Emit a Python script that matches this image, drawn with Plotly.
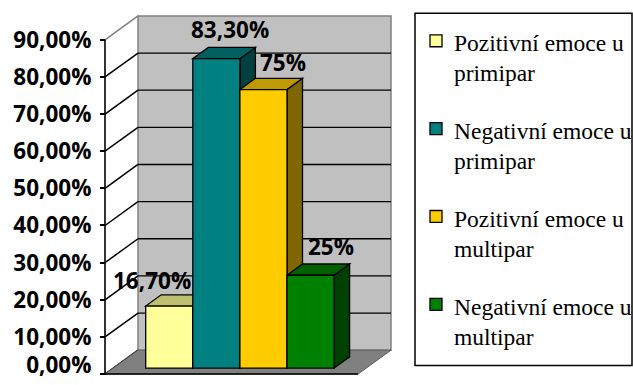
import plotly.graph_objects as go

# ---------------- data ----------------
SERIES = ["Pozitivní emoce u<br>primipar", "Negativní emoce u<br>primipar",
          "Pozitivní emoce u<br>multipar", "Negativní emoce u<br>multipar"]
VALUES = [0.167, 0.833, 0.75, 0.25]
LABELS = ["16,70%", "83,30%", "75%", "25%"]
TICKS = [0.0, 0.1, 0.2, 0.3, 0.4, 0.5, 0.6, 0.7, 0.8, 0.9]

# ---------------- style ----------------
FRONT = ["#FFFF99", "#008080", "#FFCC00", "#008000"]
LABEL_DX = [-17, 14, 20, 20]   # px shift of data labels
LABEL_DY = [-3, 0, -2, 0]
BOLD = dict(family="Open Sans", size=22.5, color="black", weight="bold")
SERIF = dict(family="Liberation Serif", size=23.5, color="black")


def shade(hexc, f):
    h = hexc.lstrip("#")
    r, g, b = (int(h[i:i + 2], 16) for i in (0, 2, 4))
    return "#%02X%02X%02X" % (int(r * f), int(g * f), int(b * f))


W, H = 633, 385
KY = 336 / 0.9          # px per y unit
U = 47.1                # px per category unit
X_BAR0 = 145.7          # left px edge of first bar front
Y_ZERO = 376            # px of 0 on front plane


def xval(px):
    return -0.5 + (px - X_BAR0) / U


def yval(py):
    return (Y_ZERO - py) / KY


def xp(px):
    return px / W


def yp(py):
    return 1 - py / H


XA = xval(105)          # front-left corner (axis)
XF = xval(358)          # front-right corner
DDX, DDY = 33 / U, 24 / KY      # full depth of the box
BDX, BDY = 15.5 / U, 11.3 / KY  # depth of a bar
BAR_OFF = 6 / KY                # bar plane offset above front plane
YMAX = TICKS[-1]
Y_RANGE = [yval(380), yval(10)]

fig = go.Figure()

for i, (name, v, c) in enumerate(zip(SERIES, VALUES, FRONT)):
    fig.add_trace(go.Bar(
        x=[i], y=[v], width=[1], name=name.replace("<br>", " "), yaxis="y2",
        marker=dict(color=c, line=dict(color="black", width=1.3)),
        showlegend=False, hoverinfo="skip"))
# empty trace so that the extra axis carrying the 0 % label is drawn
fig.add_trace(go.Scatter(x=[], y=[], yaxis="y3", showlegend=False, hoverinfo="skip"))

shapes = []
# back wall
shapes.append(dict(type="rect", xref="x", yref="y", layer="below",
                   x0=XA + DDX, x1=XF + DDX, y0=DDY, y1=YMAX + DDY,
                   fillcolor="#C0C0C0", line=dict(color="#808080", width=1.5)))
# back wall gridlines
for t in TICKS[1:-1]:
    shapes.append(dict(type="line", xref="x", yref="y", layer="below",
                       x0=XA + DDX, x1=XF + DDX, y0=t + DDY, y1=t + DDY,
                       line=dict(color="black", width=1.3)))
# side wall lines
for t in TICKS:
    col = "#808080" if t == YMAX else "black"
    shapes.append(dict(type="line", xref="x", yref="y", layer="below",
                       x0=XA, x1=XA + DDX, y0=t, y1=t + DDY,
                       line=dict(color=col, width=1.5)))
# floor
shapes.append(dict(type="path", xref="x", yref="y", layer="below",
                   path="M %f,%f L %f,%f L %f,%f L %f,%f Z" % (
                       XA, 0, XF, 0, XF + DDX, DDY, XA + DDX, DDY),
                   fillcolor="#808080", line=dict(color="#5A5A5A", width=1)))
shapes.append(dict(type="line", xref="x", yref="y", layer="below",
                   x0=XA, x1=XF, y0=0, y1=0, line=dict(color="black", width=1.5)))
# bar sides and tops
for i, (v, c) in enumerate(zip(VALUES, FRONT)):
    r = i + 0.5
    l = i - 0.5
    shapes.append(dict(type="path", xref="x", yref="y2", layer="below",
                       path="M %f,%f L %f,%f L %f,%f L %f,%f Z" % (
                           r, 0, r, v, r + BDX, v + BDY, r + BDX, BDY),
                       fillcolor=shade(c, 0.5), line=dict(color="black", width=1.3)))
    shapes.append(dict(type="path", xref="x", yref="y2", layer="below",
                       path="M %f,%f L %f,%f L %f,%f L %f,%f Z" % (
                           l, v, r, v, r + BDX, v + BDY, l + BDX, v + BDY),
                       fillcolor=shade(c, 0.75), line=dict(color="black", width=1.3)))
# value axis line
shapes.append(dict(type="line", xref="x", yref="y", layer="above",
                   x0=XA, x1=XA, y0=0, y1=YMAX, line=dict(color="black", width=1.6)))

annotations = []
for i, (v, t) in enumerate(zip(VALUES, LABELS)):
    annotations.append(dict(
        x=i, y=v + BDY, xref="x", yref="y2", text=t, showarrow=False,
        xanchor="center", yanchor="bottom", xshift=LABEL_DX[i], yshift=LABEL_DY[i],
        font=BOLD))

# ---------------- legend (box, swatches, two-line entries) ----------------
LEG_BOX = (415, 632, 13.3, 367.3)   # px: left, right, top, bottom
SW_X, SW_SIZE = 430, 12
TXT_X = 452
ITEM_TOP, ITEM_STEP, LINE_STEP = 35, 88.3, 30
shapes.append(dict(type="rect", xref="paper", yref="paper",
                   x0=xp(LEG_BOX[0]), x1=xp(LEG_BOX[1]),
                   y0=yp(LEG_BOX[3]), y1=yp(LEG_BOX[2]),
                   fillcolor="white", line=dict(color="black", width=1.5)))
for k, (name, c) in enumerate(zip(SERIES, FRONT)):
    top = ITEM_TOP + k * ITEM_STEP
    shapes.append(dict(type="rect", xref="paper", yref="paper",
                       x0=xp(SW_X), x1=xp(SW_X + SW_SIZE),
                       y0=yp(top + SW_SIZE), y1=yp(top),
                       fillcolor=c, line=dict(color="black", width=1.3)))
    for j, line in enumerate(name.split("<br>")):
        baseline = top + 16.7 + j * LINE_STEP
        annotations.append(dict(
            x=xp(TXT_X), y=yp(baseline - 8), xref="paper", yref="paper",
            text=line, showarrow=False, xanchor="left", yanchor="middle",
            font=SERIF))

axis_common = dict(anchor="free", position=105 / W, range=Y_RANGE,
                   tickformat=".2%", ticks="outside", ticklen=5, tickwidth=1.5,
                   tickcolor="black", showgrid=False, zeroline=False, showline=False,
                   ticklabelstandoff=4, tickfont=BOLD)

fig.update_layout(
    width=W, height=H, margin=dict(l=0, r=0, t=0, b=0),
    paper_bgcolor="white", plot_bgcolor="rgba(0,0,0,0)",
    separators=", ", barmode="overlay", showlegend=False,
    shapes=shapes, annotations=annotations,
    xaxis=dict(domain=[95 / W, 400 / W], range=[xval(95), xval(400)],
               visible=False, fixedrange=True),
    yaxis=dict(domain=[1 - 380 / H, 1 - 10 / H], tickvals=TICKS[1:], **axis_common),
    # the 0 % label sits at the very bottom edge: nudge it up so it stays inside the page
    yaxis3=dict(overlaying="y", tickvals=TICKS[:1], ticklabelshift=-9,
                ticklabeloverflow="allow", **axis_common),
    yaxis2=dict(overlaying="y", range=[Y_RANGE[0] - BAR_OFF, Y_RANGE[1] - BAR_OFF],
                visible=False),
)

fig.write_html("out.html")
